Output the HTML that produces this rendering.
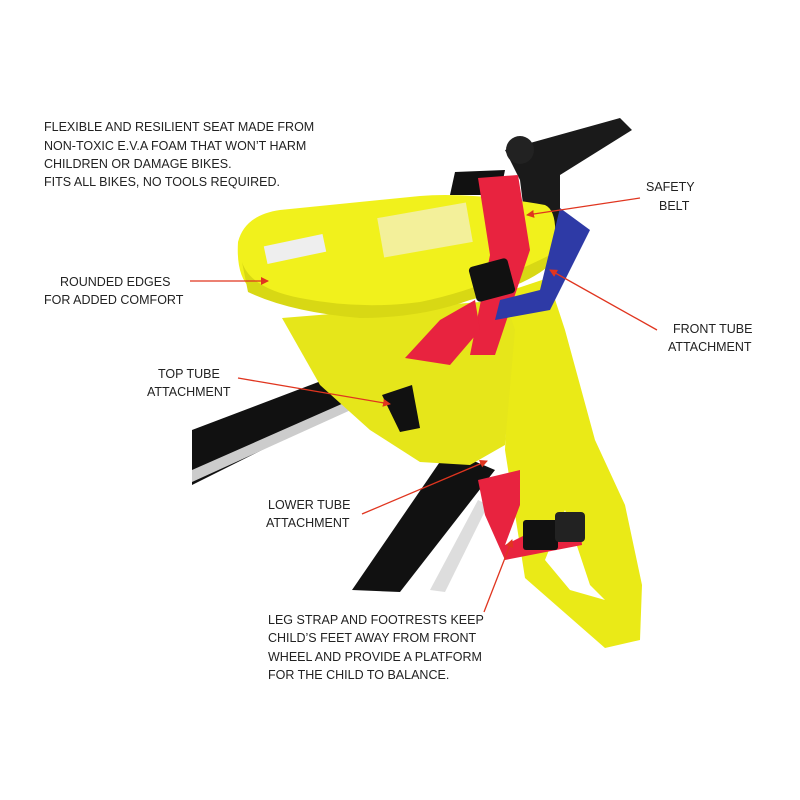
<!DOCTYPE html>
<html><head><style>
body{margin:0;background:#fff}
svg{display:block}
text{font-family:"Liberation Sans",sans-serif;font-size:12.5px;fill:#222}
</style></head><body>
<svg width="800" height="800" viewBox="0 0 800 800">
<defs><marker id="a" markerWidth="8" markerHeight="8" refX="7" refY="4" orient="auto" markerUnits="userSpaceOnUse"><path d="M0,0L8,4L0,8z" fill="#e0351f"/></marker></defs>
<!-- bike tubes -->
<polygon points="192,430 350,370 362,400 192,485" fill="#111"/>
<polygon points="192,470 362,395 364,404 192,482" fill="#ccc"/>
<polygon points="352,590 448,450 495,470 400,592" fill="#111"/>
<polygon points="430,590 478,500 488,505 445,592" fill="#ddd"/>
<polygon points="505,150 620,118 632,130 560,175 560,260 530,260 520,180" fill="#1a1a1a"/>
<circle cx="520" cy="150" r="14" fill="#222"/>
<!-- right plate -->
<polygon points="512,290 548,278 565,330 595,440 625,505 642,585 640,640 605,648 525,578 505,450" fill="#eaea17"/>
<polygon points="565,510 590,585 605,600 570,590 545,560" fill="#fff"/>
<!-- lower body -->
<path d="M282,318 L505,300 L515,330 L505,445 L470,465 L420,462 L370,430 L320,385 Z" fill="#e6e61a"/>
<polygon points="382,395 412,385 420,428 400,432" fill="#111"/>
<!-- seat -->
<path d="M238,242 Q245,215 280,210 L420,196 Q470,192 545,205 Q560,212 553,255 Q540,270 480,290 Q420,312 360,312 Q290,305 250,288 Q236,275 238,242 Z" fill="#f1f11c"/>
<path d="M242,262 Q250,288 300,298 Q360,310 420,302 Q480,290 550,255 L553,262 Q530,285 470,300 Q420,318 360,318 Q290,312 248,292 Z" fill="#d8d814"/>
<rect x="265" y="240" width="60" height="18" fill="#eee" transform="rotate(-12 295 249)"/>
<rect x="380" y="210" width="90" height="40" fill="#f3f09a" transform="rotate(-10 425 230)"/>
<!-- straps -->
<polygon points="455,172 505,170 500,195 450,195" fill="#111"/>
<polygon points="478,178 518,175 530,250 495,355 470,355 490,255" fill="#e8233f"/>
<polygon points="405,358 440,320 475,300 480,330 450,365" fill="#e8233f"/>
<rect x="472" y="262" width="40" height="36" rx="4" fill="#111" transform="rotate(-15 492 280)"/>
<polygon points="560,208 590,230 550,310 495,320 500,300 540,290" fill="#2e3aa6"/>
<polygon points="478,480 520,470 520,505 505,545 525,535 580,525 582,545 505,560 485,515" fill="#e8233f"/>
<rect x="523" y="520" width="35" height="30" fill="#111" rx="3"/>
<rect x="555" y="512" width="30" height="30" fill="#222" rx="4"/>
<!-- arrows -->
<g stroke="#e0351f" stroke-width="1.3" fill="none" marker-end="url(#a)">
<line x1="190" y1="281" x2="268" y2="281"/>
<line x1="640" y1="198" x2="527" y2="215"/>
<line x1="657" y1="330" x2="550" y2="270"/>
<line x1="238" y1="378" x2="390" y2="404"/>
<line x1="362" y1="514" x2="487" y2="461"/>
<line x1="484" y1="612" x2="512" y2="540"/>
</g>
<text x="44" y="131">FLEXIBLE AND RESILIENT SEAT MADE FROM</text>
<text x="44" y="150">NON-TOXIC E.V.A FOAM THAT WON’T HARM</text>
<text x="44" y="168">CHILDREN OR DAMAGE BIKES.</text>
<text x="44" y="186">FITS ALL BIKES, NO TOOLS REQUIRED.</text>
<text x="646" y="191">SAFETY</text>
<text x="659" y="210">BELT</text>
<text x="60" y="286">ROUNDED EDGES</text>
<text x="44" y="304">FOR ADDED COMFORT</text>
<text x="673" y="333">FRONT TUBE</text>
<text x="668" y="351">ATTACHMENT</text>
<text x="158" y="378">TOP TUBE</text>
<text x="147" y="396">ATTACHMENT</text>
<text x="268" y="509">LOWER TUBE</text>
<text x="266" y="527">ATTACHMENT</text>
<text x="268" y="624">LEG STRAP AND FOOTRESTS KEEP</text>
<text x="268" y="642">CHILD’S FEET AWAY FROM FRONT</text>
<text x="268" y="661">WHEEL AND PROVIDE A PLATFORM</text>
<text x="268" y="679">FOR THE CHILD TO BALANCE.</text>
</svg>
</body></html>
